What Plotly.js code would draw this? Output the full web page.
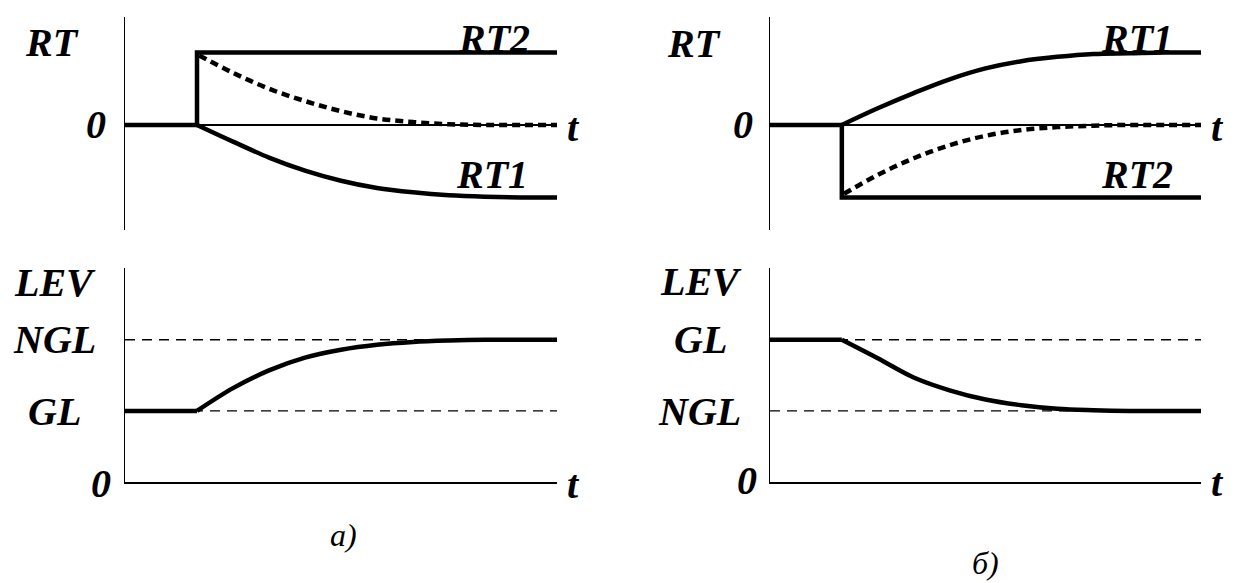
<!DOCTYPE html>
<html>
<head>
<meta charset="utf-8">
<script src="https://cdn.plot.ly/plotly-3.0.1.min.js"></script>
<style>html,body{margin:0;padding:0;background:#fff}#chart{width:1235px;height:583px}</style>
</head>
<body>
<div id="chart"></div>
<script>
// ---------- data ----------
// a) top: step RT2, curve RT1, dotted difference
const stepT = [0, 1, 1, 6];
const rt2A = [0, 0, 1, 1];
const curveT = [1, 1.5, 2, 2.5, 3, 3.5, 4, 4.5, 5, 5.5, 6];
const rt1A_y = [0, -0.23, -0.45, -0.63, -0.77, -0.87, -0.93, -0.97, -0.99, -1.0, -1.0];
const dotT = [1.03, 1.5, 2, 2.5, 3, 3.5, 4, 4.5, 5, 5.5, 6];
const dotA_y = [0.96, 0.72, 0.50, 0.33, 0.19, 0.09, 0.04, 0.01, 0, 0, 0];
// б) top
const rt2B = [0, 0, -1, -1];
const rt1B_y = [0, 0.23, 0.44, 0.63, 0.78, 0.88, 0.94, 0.98, 0.99, 1.0, 1.0];
const dotB_y = [-0.95, -0.69, -0.46, -0.28, -0.15, -0.07, -0.03, -0.01, 0, 0, 0];
// a) bottom: level GL -> NGL
const flatT = [0, 1];
const levA_flat = [1, 1];
const levA_y = [1, 1.32, 1.57, 1.75, 1.86, 1.93, 1.97, 1.99, 2.0, 2.0, 2.0];
// б) bottom: level GL -> NGL (downwards)
const levB_flat = [2, 2];
const levB_y = [2, 1.74, 1.47, 1.29, 1.16, 1.08, 1.03, 1.01, 1.0, 1.0, 1.0];
// reference levels
const refT = [0, 6];
const levelsA = {NGL: 2, GL: 1};
const levelsB = {GL: 2, NGL: 1};

// ---------- helpers ----------
const W = 1235, H = 583;
const px = x => x / W, py = y => 1 - y / H;
const LW = 4.5;
function line(x, y, xa, ya, lineStyle) {
  return {x, y, xaxis: xa, yaxis: ya, type: 'scatter', mode: 'lines',
    hoverinfo: 'skip', showlegend: false,
    line: lineStyle || {color: '#000', width: LW}};
}
const smooth = {color: '#000', width: LW, shape: 'spline', smoothing: 1};
const dotted = {color: '#000', width: 4.5, dash: '8px,5px', shape: 'spline', smoothing: 1};
const dashedRef = {color: '#000', width: 1.4, dash: '10px,7px'};

const traces = [
  line(stepT, rt2A, 'x', 'y'),
  line(curveT, rt1A_y, 'x', 'y', smooth),
  line(dotT, dotA_y, 'x', 'y', dotted),
  line(stepT, rt2B, 'x2', 'y2'),
  line(curveT, rt1B_y, 'x2', 'y2', smooth),
  line(dotT, dotB_y, 'x2', 'y2', dotted),
  line(refT, [levelsA.NGL, levelsA.NGL], 'x3', 'y3', dashedRef),
  line(refT, [levelsA.GL, levelsA.GL], 'x3', 'y3', dashedRef),
  line(flatT, levA_flat, 'x3', 'y3'),
  line(curveT, levA_y, 'x3', 'y3', smooth),
  line(refT, [levelsB.GL, levelsB.GL], 'x4', 'y4', dashedRef),
  line(refT, [levelsB.NGL, levelsB.NGL], 'x4', 'y4', dashedRef),
  line(flatT, levB_flat, 'x4', 'y4'),
  line(curveT, levB_y, 'x4', 'y4', smooth)
];

const xBase = {range: [0, 6], showgrid: false, zeroline: false, showticklabels: false, ticks: '', fixedrange: true};
const yTop = {range: [-1.45, 1.49], showgrid: false, showticklabels: false, ticks: '',
  zeroline: true, zerolinecolor: '#000', zerolinewidth: 1.3,
  showline: true, linecolor: '#000', linewidth: 1.5, fixedrange: true};
const yBot = {range: [0, 3.01], showgrid: false, showticklabels: false, ticks: '', zeroline: false,
  showline: true, linecolor: '#000', linewidth: 1.5, fixedrange: true};
const xBot = Object.assign({}, xBase, {showline: true, linecolor: '#000', linewidth: 1.5});

const dL = [px(125), px(557)], dR = [px(770), px(1201)];
const dT = [py(230), py(17)], dB = [py(482), py(268)];

function lab(text, x, y, size, bold) {
  return {text: text, xref: 'paper', yref: 'paper', x: px(x), y: py(y), xanchor: 'center', yanchor: 'middle',
    showarrow: false,
    font: {family: 'Liberation Serif', size: size || 40, color: '#000',
      weight: bold === false ? 'normal' : 'bold', style: 'italic'}};
}

const layout = {
  width: W, height: H, margin: {l: 0, r: 0, t: 0, b: 0},
  paper_bgcolor: '#fff', plot_bgcolor: 'rgba(0,0,0,0)', showlegend: false,
  xaxis: Object.assign({}, xBase, {domain: dL, anchor: 'y'}),
  yaxis: Object.assign({}, yTop, {domain: dT, anchor: 'x'}),
  xaxis2: Object.assign({}, xBase, {domain: dR, anchor: 'y2'}),
  yaxis2: Object.assign({}, yTop, {domain: dT, anchor: 'x2'}),
  xaxis3: Object.assign({}, xBot, {domain: dL, anchor: 'y3'}),
  yaxis3: Object.assign({}, yBot, {domain: dB, anchor: 'x3'}),
  xaxis4: Object.assign({}, xBot, {domain: dR, anchor: 'y4'}),
  yaxis4: Object.assign({}, yBot, {domain: dB, anchor: 'x4'}),
  annotations: [
    lab('RT', 52, 43), lab('0', 96, 125), lab('RT2', 494, 38), lab('RT1', 492, 174), lab('t', 573, 127),
    lab('RT', 694, 44), lab('0', 743, 125), lab('RT1', 1137, 38), lab('RT2', 1137, 174), lab('t', 1217, 127),
    lab('LEV', 55, 282), lab('NGL', 54, 339), lab('GL', 54, 411), lab('0', 101, 483), lab('t', 573, 484),
    lab('LEV', 701, 281), lab('GL', 700, 339), lab('NGL', 699, 411), lab('0', 747, 481), lab('t', 1217, 482),
    lab('a)', 343, 535, 32, false), lab('б)', 985, 563, 32, false)
  ]
};

Plotly.newPlot('chart', traces, layout, {staticPlot: true, displayModeBar: false});
</script>
</body>
</html>
